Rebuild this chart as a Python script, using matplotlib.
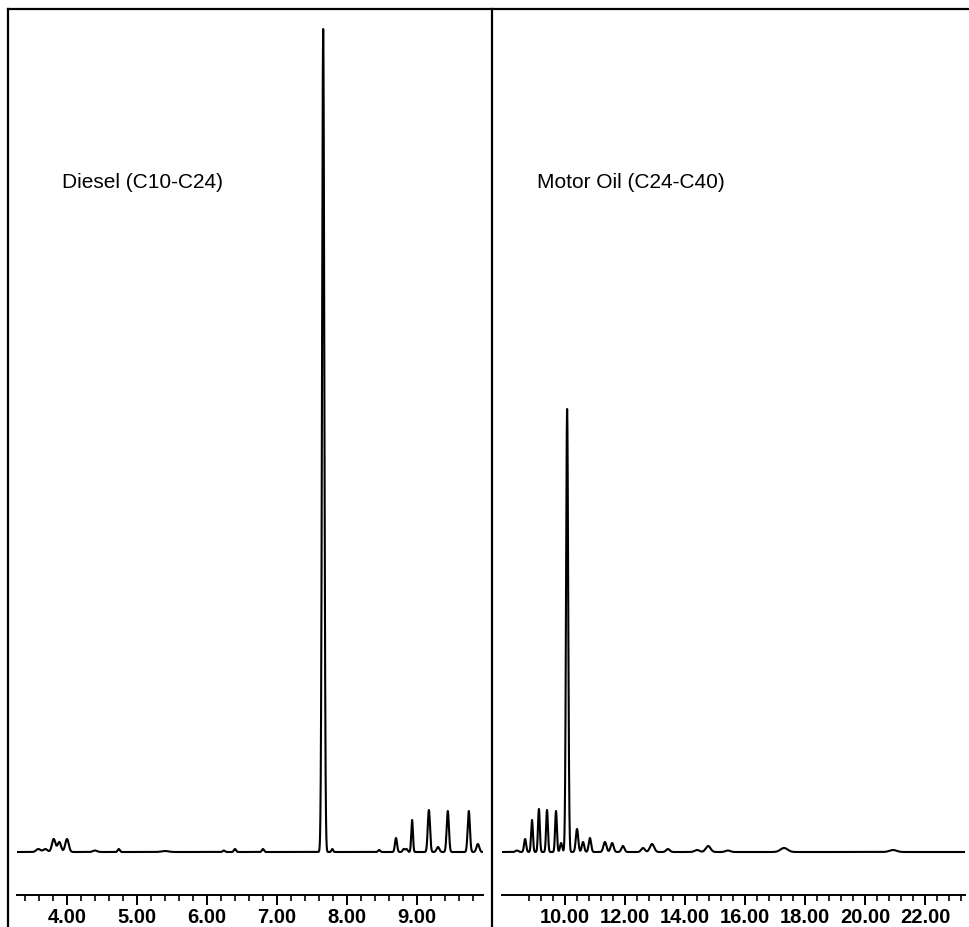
import numpy as np
import matplotlib
matplotlib.use("Agg")
import matplotlib.pyplot as plt
from matplotlib.lines import Line2D
from matplotlib.ticker import FixedLocator, FormatStrFormatter

plt.rcParams['font.family'] = ['Liberation Sans', 'DejaVu Sans']

# peak tables: retention time (min), height (arb.), width (min)
diesel_rt = [3.59, 3.69, 3.81, 3.89, 4.00, 4.40, 4.74, 5.40, 6.24, 6.40, 6.80,
             7.66, 7.79, 8.46, 8.70, 8.81, 8.85, 8.93, 9.17, 9.30, 9.44, 9.74, 9.87]
diesel_h = [3, 3, 13, 10, 13, 1.5, 3, 1, 1.5, 3, 3,
            823, 3, 2, 14, 3, 3, 32, 42, 5, 41, 41, 8]
diesel_w = [0.03, 0.03, 0.025, 0.025, 0.025, 0.03, 0.015, 0.05, 0.015, 0.015, 0.015,
            0.016, 0.012, 0.015, 0.015, 0.015, 0.015, 0.012, 0.016, 0.02, 0.016, 0.016, 0.02]

oil_rt = [8.40, 8.67, 8.90, 9.13, 9.40, 9.70, 9.87, 10.07, 10.40, 10.60, 10.83,
          11.33, 11.57, 11.93, 12.60, 12.90, 13.43, 14.40, 14.77, 15.43, 17.30, 20.93]
oil_h = [1.5, 13, 32, 43, 42, 41, 9, 443, 23, 10, 14,
         10, 9, 6, 4, 8, 3, 2, 6, 1.5, 4, 2]
oil_w = [0.05, 0.035, 0.03, 0.03, 0.03, 0.03, 0.035, 0.035, 0.04, 0.04, 0.04,
         0.05, 0.05, 0.05, 0.06, 0.07, 0.06, 0.08, 0.08, 0.08, 0.12, 0.12]

left_major = [4, 5, 6, 7, 8, 9]
right_major = [10, 12, 14, 16, 18, 20, 22]


def trace(t, rt, h, w):
    y = np.zeros_like(t)
    for r, a, s in zip(rt, h, w):
        y += a * np.exp(-0.5 * ((t - r) / s) ** 2)
    return y


W, H = 969, 928
fig = plt.figure(figsize=(W / 100, H / 100), dpi=100)


def px_axes(x0, x1, y0, y1):
    return fig.add_axes([x0 / W, 1 - y1 / H, (x1 - x0) / W, (y1 - y0) / H])


def style(ax, major, minor):
    for s in ['top', 'left', 'right']:
        ax.spines[s].set_visible(False)
    ax.spines['bottom'].set_linewidth(1.4)
    ax.set_yticks([])
    ax.xaxis.set_major_locator(FixedLocator(major))
    ax.xaxis.set_minor_locator(FixedLocator(minor))
    ax.xaxis.set_major_formatter(FormatStrFormatter('%.2f'))
    ax.tick_params(axis='x', which='major', direction='out', length=7, width=1.4,
                   labelsize=14.5, pad=2)
    ax.tick_params(axis='x', which='minor', direction='out', length=4, width=1.2)
    for lab in ax.get_xticklabels():
        lab.set_fontweight('bold')
    ax.set_ylim(-43, 843)


# left panel: diesel
ax1 = px_axes(17, 483, 10, 896)
t1 = np.linspace(3.286, 9.943, 20000)
ax1.plot(t1, trace(t1, diesel_rt, diesel_h, diesel_w), color='black', lw=1.5)
ax1.set_xlim(3.286, 9.943)
style(ax1, left_major, np.round(np.arange(3.4, 9.95, 0.2), 2))

# right panel: motor oil
ax2 = px_axes(502, 965, 10, 896)
t2 = np.linspace(7.9, 23.33, 20000)
ax2.plot(t2, trace(t2, oil_rt, oil_h, oil_w), color='black', lw=1.5)
ax2.set_xlim(7.9, 23.33)
style(ax2, right_major, np.round(np.arange(8.8, 23.3, 0.4), 2))

fig.text(62 / W, 1 - 183 / H, 'Diesel (C10-C24)', fontsize=15, va='center', ha='left')
fig.text(537 / W, 1 - 183 / H, 'Motor Oil (C24-C40)', fontsize=15, va='center', ha='left')

# frame lines of the scanned page
fig.add_artist(Line2D([8 / W, 8 / W], [0, 1 - 10 / H], color='black', lw=1.6))
fig.add_artist(Line2D([492 / W, 492 / W], [0, 1 - 10 / H], color='black', lw=1.6))
fig.add_artist(Line2D([8 / W, 1], [1 - 10 / H, 1 - 10 / H], color='black', lw=1.6))

fig.savefig('out.png', dpi=100)
